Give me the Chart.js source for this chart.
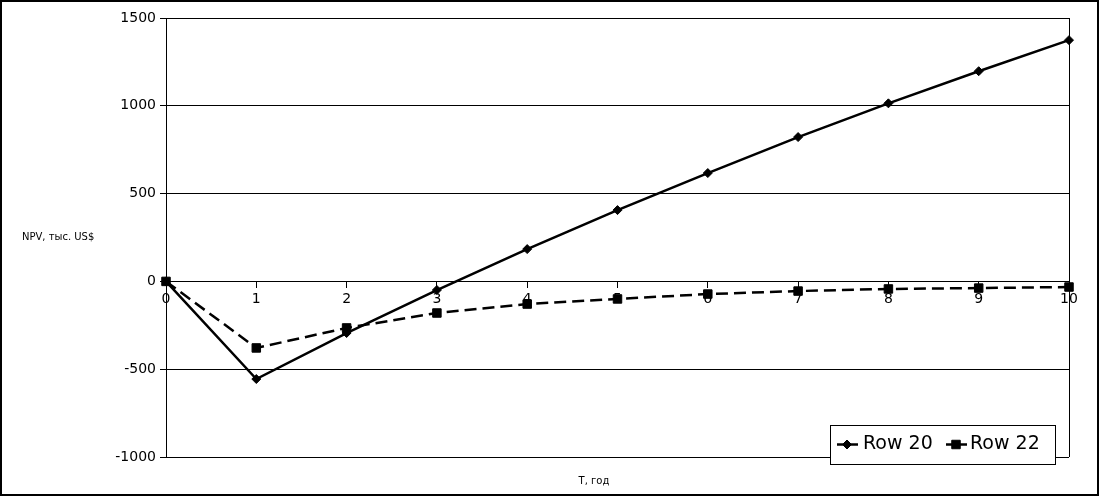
<!DOCTYPE html>
<html>
<head>
<meta charset="utf-8">
<script src="https://cdn.jsdelivr.net/npm/chart.js@4/dist/chart.umd.min.js"></script>
<style>
  html, body { margin: 0; padding: 0; background: #fff; }
  #wrap { width: 1100px; height: 497px; position: relative; }
</style>
</head>
<body>
<div id="wrap"><canvas id="npvChart" width="1100" height="497"></canvas></div>
<script>
// данные графика
const years = ['0', '1', '2', '3', '4', '5', '6', '7', '8', '9', '10'];
const row20 = [0, -556, -294, -49, 184, 406, 617, 822, 1014, 1197, 1374];
const row22 = [0, -379, -265, -180, -129, -100, -72, -55, -43, -38, -32];
const yTicks = [-1000, -500, 0, 500, 1000, 1500];
const seriesNames = ['Row 20', 'Row 22'];
const xTitle = 'T, год';
const yTitle = 'NPV, тыс. US$';

const FONT = 'DejaVu Sans';

// рамка, подписи осей и легенда
const extras = {
    id: 'extras',
    afterDraw(chart) {
        const ctx = chart.ctx;
        const area = chart.chartArea;
        ctx.save();
        ctx.strokeStyle = '#000';
        ctx.lineWidth = 1;
        // правая граница области построения
        ctx.beginPath();
        ctx.moveTo(Math.round(area.right) + 0.5, area.top);
        ctx.lineTo(Math.round(area.right) + 0.5, area.bottom);
        ctx.stroke();

        // подписи осей
        ctx.fillStyle = '#000';
        ctx.font = '10px ' + FONT;
        ctx.textBaseline = 'middle';
        ctx.textAlign = 'left';
        ctx.fillText(yTitle, 22, 237);
        ctx.textAlign = 'center';
        ctx.fillText(xTitle, 594, 481);

        // легенда
        const lx = 830, ly = 425, lw = 225, lh = 39;
        ctx.fillStyle = '#fff';
        ctx.fillRect(lx, ly, lw, lh);
        ctx.strokeRect(lx + 0.5, ly + 0.5, lw, lh);
        const items = [{ x: 837, tx: 863 }, { x: 946, tx: 970 }];
        chart.data.datasets.forEach((ds, i) => {
            const it = items[i];
            const cy = ly + 19.5;
            ctx.strokeStyle = '#000';
            ctx.fillStyle = '#000';
            ctx.lineWidth = 2.5;
            ctx.setLineDash([]);
            ctx.beginPath();
            ctx.moveTo(it.x, cy);
            ctx.lineTo(it.x + 21, cy);
            ctx.stroke();
            ctx.lineWidth = 1;
            Chart.helpers.drawPoint(ctx, {
                pointStyle: ds.pointStyle,
                radius: ds.pointRadius,
                borderWidth: 1
            }, it.x + 10, cy);
            ctx.font = '19px ' + FONT;
            ctx.textAlign = 'left';
            ctx.textBaseline = 'middle';
            ctx.fillText(ds.label, it.tx, cy);
        });

        // внешняя рамка
        ctx.lineWidth = 2;
        ctx.strokeStyle = '#000';
        ctx.strokeRect(1, 1, chart.width - 3, chart.height - 3);
        ctx.restore();
    }
};

const ctxNpv = document.getElementById('npvChart').getContext('2d');
const npvChart = new Chart(ctxNpv, {
    type: 'line',
    data: {
        labels: years,
        datasets: [{
            label: seriesNames[0],
            data: row20,
            borderColor: '#000',
            backgroundColor: '#000',
            borderWidth: 2.5,
            pointStyle: 'rectRot',
            pointRadius: 4.5,
            pointBorderWidth: 1,
            tension: 0,
            fill: false
        }, {
            label: seriesNames[1],
            data: row22,
            borderColor: '#000',
            backgroundColor: '#000',
            borderWidth: 2.5,
            borderDash: [12, 6],
            pointStyle: 'rect',
            pointRadius: 6,
            pointBorderWidth: 1,
            tension: 0,
            fill: false
        }]
    },
    options: {
        responsive: false,
        animation: false,
        devicePixelRatio: 1,
        layout: { padding: { left: 0, top: 18, right: 31, bottom: 40 } },
        plugins: {
            legend: { display: false },
            tooltip: { enabled: false }
        },
        scales: {
            x: {
                type: 'category',
                position: { y: 0 },
                offset: false,
                afterFit: (scale) => { scale.height = 0; },
                grid: {
                    drawOnChartArea: false,
                    drawTicks: true,
                    tickLength: 6,
                    color: '#000'
                },
                border: { display: true, color: '#000', width: 1 },
                ticks: {
                    color: '#000',
                    padding: 4,
                    maxRotation: 0,
                    autoSkip: false,
                    font: { family: FONT, size: 14 }
                }
            },
            y: {
                min: yTicks[0],
                max: yTicks[yTicks.length - 1],
                afterFit: (scale) => { scale.width = 166; },
                afterBuildTicks: (scale) => {
                    scale.ticks = yTicks.map(v => ({ value: v }));
                },
                grid: {
                    color: '#000',
                    lineWidth: 1,
                    drawTicks: true,
                    tickLength: 6
                },
                border: { display: true, color: '#000', width: 1 },
                ticks: {
                    color: '#000',
                    padding: 4,
                    callback: (v) => String(v),
                    font: { family: FONT, size: 14 }
                }
            }
        }
    },
    plugins: [extras]
});
</script>
</body>
</html>
